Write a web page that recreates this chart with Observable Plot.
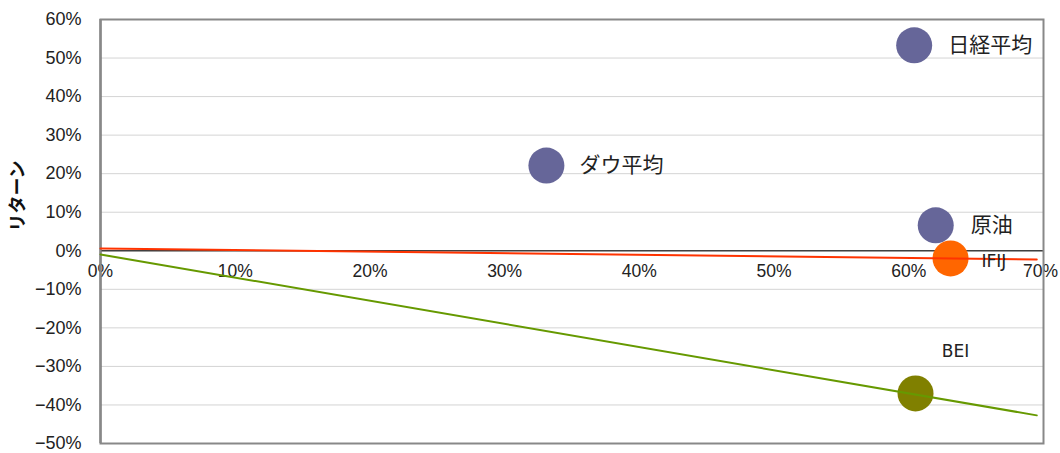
<!DOCTYPE html>
<html>
<head>
<meta charset="utf-8">
<script src="https://cdn.jsdelivr.net/npm/d3@7"></script>
<script src="https://cdn.jsdelivr.net/npm/@observablehq/plot@0.6"></script>
<style>
  body { margin: 0; background: #fff; }
  #chart svg { display: block; }
</style>
</head>
<body>
<div id="chart"></div>
<script>
// Data (risk on x, return on y)
const names   = ["日経平均", "ダウ平均", "原油", "IFIJ", "BEI"];
const risk    = [0.604, 0.331, 0.620, 0.631, 0.605];
const ret     = [0.533, 0.221, 0.066, -0.020, -0.370];
const colors  = ["#666699", "#666699", "#666699", "#FF6600", "#808000"];
const labelDx = [34, 33, 35, 31, 40];
const labelDy = [0, 0, 0, 3, -42];
const labelAnchor = ["start", "start", "start", "start", "middle"];
const labelSize = [21, 21, 21, 17, 17];

// Trend lines (endpoints)
const redLineX   = [0, 0.695];
const redLineY   = [0.006, -0.0226];
const greenLineX = [0, 0.695];
const greenLineY = [-0.0096, -0.427];

const xTicks = [0, 0.1, 0.2, 0.3, 0.4, 0.5, 0.6, 0.7];
const yTicks = [-0.5, -0.4, -0.3, -0.2, -0.1, 0, 0.1, 0.2, 0.3, 0.4, 0.5, 0.6];

const pts = names.map((n, i) => ({name: n, x: risk[i], y: ret[i], color: colors[i]}));
const redLine = redLineX.map((x, i) => ({x, y: redLineY[i]}));
const greenLine = greenLineX.map((x, i) => ({x, y: greenLineY[i]}));

const pct = d => (d < 0 ? "\u2212" : "") + Math.round(Math.abs(d) * 100) + "%";
const jp = "'Noto Sans CJK JP', 'DejaVu Sans', sans-serif";

const labelMarks = pts.map((p, i) => Plot.text([p], {
  x: "x", y: "y", text: "name",
  dx: labelDx[i], dy: labelDy[i], textAnchor: labelAnchor[i],
  fontSize: labelSize[i], fill: "#222",
  fontFamily: i >= 3 ? "'DejaVu Sans', sans-serif" : jp
}));

const chart = Plot.plot({
  width: 1060,
  height: 453,
  marginLeft: 100,
  marginRight: 17,
  marginTop: 19,
  marginBottom: 10,
  style: {fontFamily: "'Liberation Sans', Arial, sans-serif", background: "#fff"},
  x: {domain: [0, 0.7]},
  y: {domain: [-0.5, 0.6]},
  marks: [
    Plot.gridY(yTicks, {stroke: "#d4d4d4", strokeOpacity: 1, strokeWidth: 1}),
    Plot.axisY(yTicks, {tickFormat: pct, tickSize: 0, tickPadding: 19, fontSize: 18, fill: "#222", label: null}),
    Plot.axisX({ticks: [], label: null, tickSize: 0}),
    Plot.text(xTicks.slice(0, -1), {x: d => d, y: 0, text: pct, dy: 21, fontSize: 17.5, fill: "#222"}),
    Plot.text(xTicks.slice(-1), {x: d => d, y: 0, text: pct, dy: 21, dx: -3, fontSize: 17.5, fill: "#222"}),
    Plot.ruleY([0], {stroke: "#404040", strokeWidth: 1.5}),
    Plot.ruleX([0], {stroke: "#555", strokeWidth: 2}),
    Plot.frame({stroke: "#888", strokeWidth: 2}),
    Plot.dot(pts, {x: "x", y: "y", r: 18, fill: "color", stroke: null}),
    Plot.line(redLine, {x: "x", y: "y", stroke: "#FF3300", strokeWidth: 2}),
    Plot.line(greenLine, {x: "x", y: "y", stroke: "#669900", strokeWidth: 2}),
    ...labelMarks,
    Plot.text(["リターン"], {frameAnchor: "left", dx: -82, rotate: -90, text: d => d, fontSize: 18, fontWeight: "bold", fill: "#111", fontFamily: jp})
  ]
});
document.getElementById("chart").appendChild(chart);
</script>
</body>
</html>
